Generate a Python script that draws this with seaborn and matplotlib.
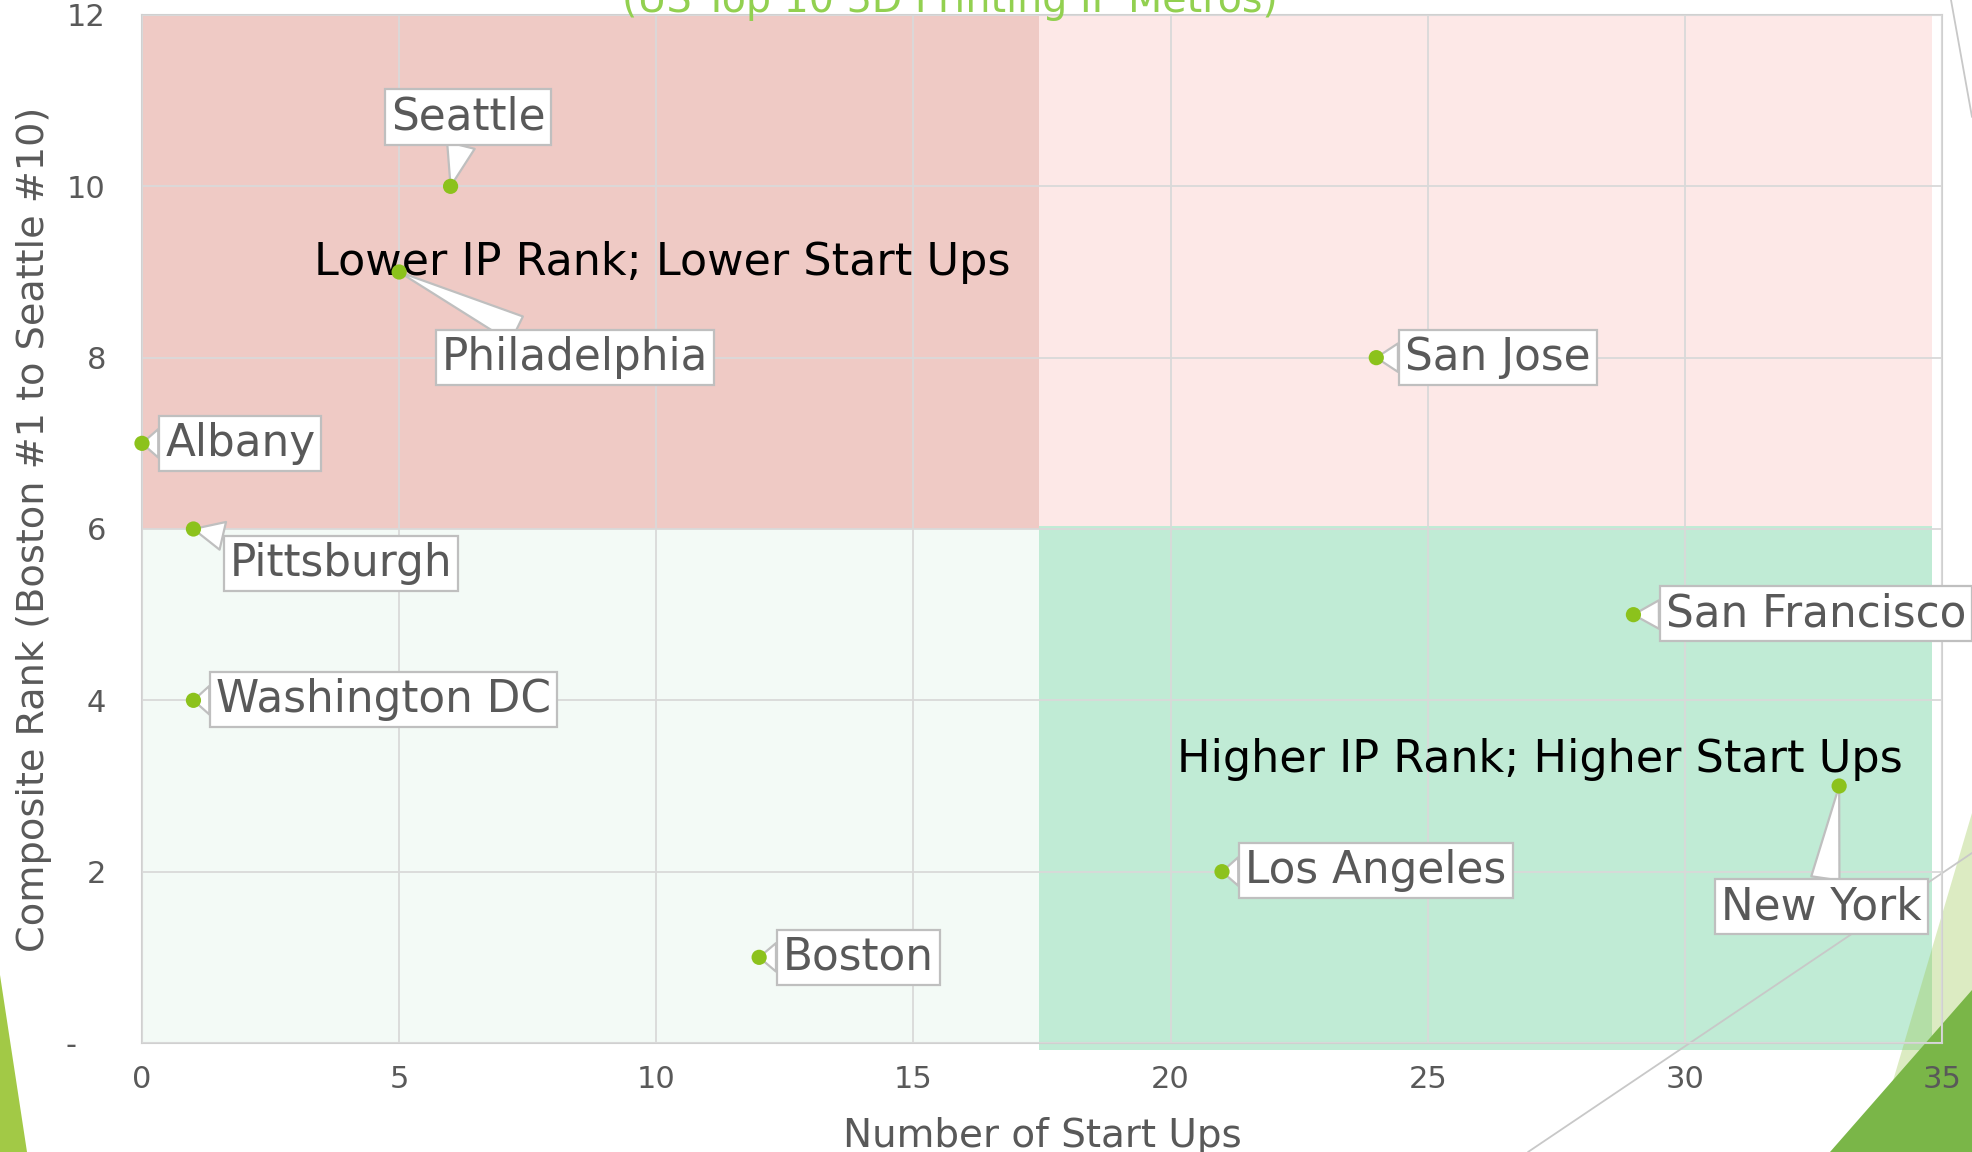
import matplotlib
matplotlib.use("Agg")
import matplotlib.pyplot as plt
from matplotlib.patches import Rectangle, Polygon
from matplotlib.lines import Line2D
import seaborn as sns
import pandas as pd

# ---------------- data ----------------
cities = ["Seattle", "Philadelphia", "Albany", "Pittsburgh", "Washington DC",
          "Boston", "San Jose", "San Francisco", "Los Angeles", "New York"]
start_ups = [6, 5, 0, 1, 1, 12, 24, 29, 21, 33]
composite_rank = [10, 9, 7, 6, 4, 1, 8, 5, 2, 3]
# callout box centres (data units)
label_x = [6.34, 8.42, 1.91, 3.87, 4.70, 13.93, 26.36, 32.55, 23.99, 32.65]
label_y = [10.81, 8.0, 7.0, 5.6, 4.01, 1.0, 8.0, 5.01, 2.01, 1.59]

x_ticks = [0, 5, 10, 15, 20, 25, 30, 35]
y_ticks = [0, 2, 4, 6, 8, 10, 12]
y_tick_labels = ["-   ", "2", "4", "6", "8", "10", "12"]

quadrant_texts = ["Lower IP Rank; Lower Start Ups", "Higher IP Rank; Higher Start Ups"]
quadrant_text_x = [10.11, 27.19]
quadrant_text_y = [8.96, 3.16]

title = "(US Top 10 3D Printing IP Metros)"
x_label = "Number of Start Ups"
y_label = "Composite Rank (Boston #1 to Seattle #10)"

df = pd.DataFrame({"city": cities, "startups": start_ups, "rank": composite_rank})

# ---------------- style ----------------
sns.set_theme(style="white")
plt.rcParams["font.family"] = ["DejaVu Sans"]
GREY_TXT = "#595959"
GRID = "#D9D9D9"

W, H = 1972, 1152
fig = plt.figure(figsize=(W / 100, H / 100), dpi=100)
ax = fig.add_axes([142 / W, 1 - 1043 / H, (1942 - 142) / W, (1043 - 15) / H])
ax.set_xlim(0, 35)
ax.set_ylim(0, 12)

# quadrant backgrounds
x_split, y_split = 17.45, 6.0
ax.add_patch(Rectangle((0, y_split), x_split, 12 - y_split, fc="#EFCAC5", ec="none", zorder=0))
ax.add_patch(Rectangle((x_split, y_split), 34.8 - x_split, 12 - y_split, fc="#FDE8E7", ec="none", zorder=0))
ax.add_patch(Rectangle((0, 0), x_split, y_split, fc="#F3FAF6", ec="none", zorder=0))
ax.add_patch(Rectangle((x_split, -0.08), 34.8 - x_split, y_split + 0.11, fc="#C0EBD5",
                       ec="none", zorder=0, clip_on=False))

# grid
ax.set_xticks(x_ticks)
ax.set_yticks(y_ticks)
ax.set_yticklabels(y_tick_labels)
ax.grid(True, color=GRID, lw=1.3)
ax.set_axisbelow(False)
for s in ax.spines.values():
    s.set_color("#D0D0D0")
    s.set_linewidth(1.5)
    s.set_zorder(2)

ax.tick_params(axis="both", length=0, labelcolor=GREY_TXT, labelsize=22)
ax.tick_params(axis="x", pad=16)
ax.tick_params(axis="y", pad=26)

# quadrant texts
for t, tx, ty in zip(quadrant_texts, quadrant_text_x, quadrant_text_y):
    ax.text(tx, ty, t, ha="center", va="baseline", fontsize=32, color="black", zorder=3)

# callouts
for name, px, py, lx, ly in zip(cities, start_ups, composite_rank, label_x, label_y):
    ax.annotate(name, xy=(px, py), xytext=(lx, ly), textcoords="data",
                ha="center", va="center", fontsize=31.5, color=GREY_TXT, zorder=4,
                annotation_clip=False,
                bbox=dict(boxstyle="square,pad=0.14", fc="white", ec="#BFBFBF", lw=1.6),
                arrowprops=dict(arrowstyle="wedge,tail_width=0.65,shrink_factor=0.5",
                                fc="white", ec="#BFBFBF", lw=1.6, shrinkA=0, shrinkB=0))

# points
sns.scatterplot(data=df, x="startups", y="rank", ax=ax, color="#8CC21C", s=120,
                edgecolor="none", zorder=5, clip_on=False, legend=False)

ax.set_xlabel(x_label, fontsize=28, color=GREY_TXT)
ax.set_ylabel(y_label, fontsize=27.5, color=GREY_TXT)
ax.xaxis.set_label_coords(0.5, -0.072)
ax.yaxis.set_label_coords(-0.05, 0.5)

# title (cut at the top edge like the reference)
fig.text(950 / W, 1 - 12 / H, title, ha="center", va="baseline", fontsize=28.5,
         color="#92D050")

# slide decorations (drawn above the plot fills, below texts and tick labels)
def fp(pts):
    return [(x / W, 1 - y / H) for x, y in pts]

decor = [
    Polygon(fp([(0, 975), (27, 1152), (0, 1152)]), closed=True,
            transform=fig.transFigure, fc="#A2C946", ec="none", zorder=1.8),
    Polygon(fp([(1972, 813), (1872, 1152), (1972, 1152)]), closed=True,
            transform=fig.transFigure, fc="#9BC850", alpha=0.35, ec="none", zorder=1.8),
    Polygon(fp([(1972, 990), (1830, 1152), (1972, 1152)]), closed=True,
            transform=fig.transFigure, fc="#7AB648", ec="none", zorder=1.85),
    Line2D([1528 / W, 1972 / W], [1 - 1152 / H, 1 - 853 / H],
           transform=fig.transFigure, color="#C8C8C8", lw=1.3, zorder=1.9),
    Line2D([1951 / W, 1972 / W], [1.0, 1 - 117 / H],
           transform=fig.transFigure, color="#C8C8C8", lw=1.3, zorder=1.9),
]
for a in decor:
    ax.add_artist(a)
    a.set_clip_on(False)

fig.savefig("out.png", dpi=100)
